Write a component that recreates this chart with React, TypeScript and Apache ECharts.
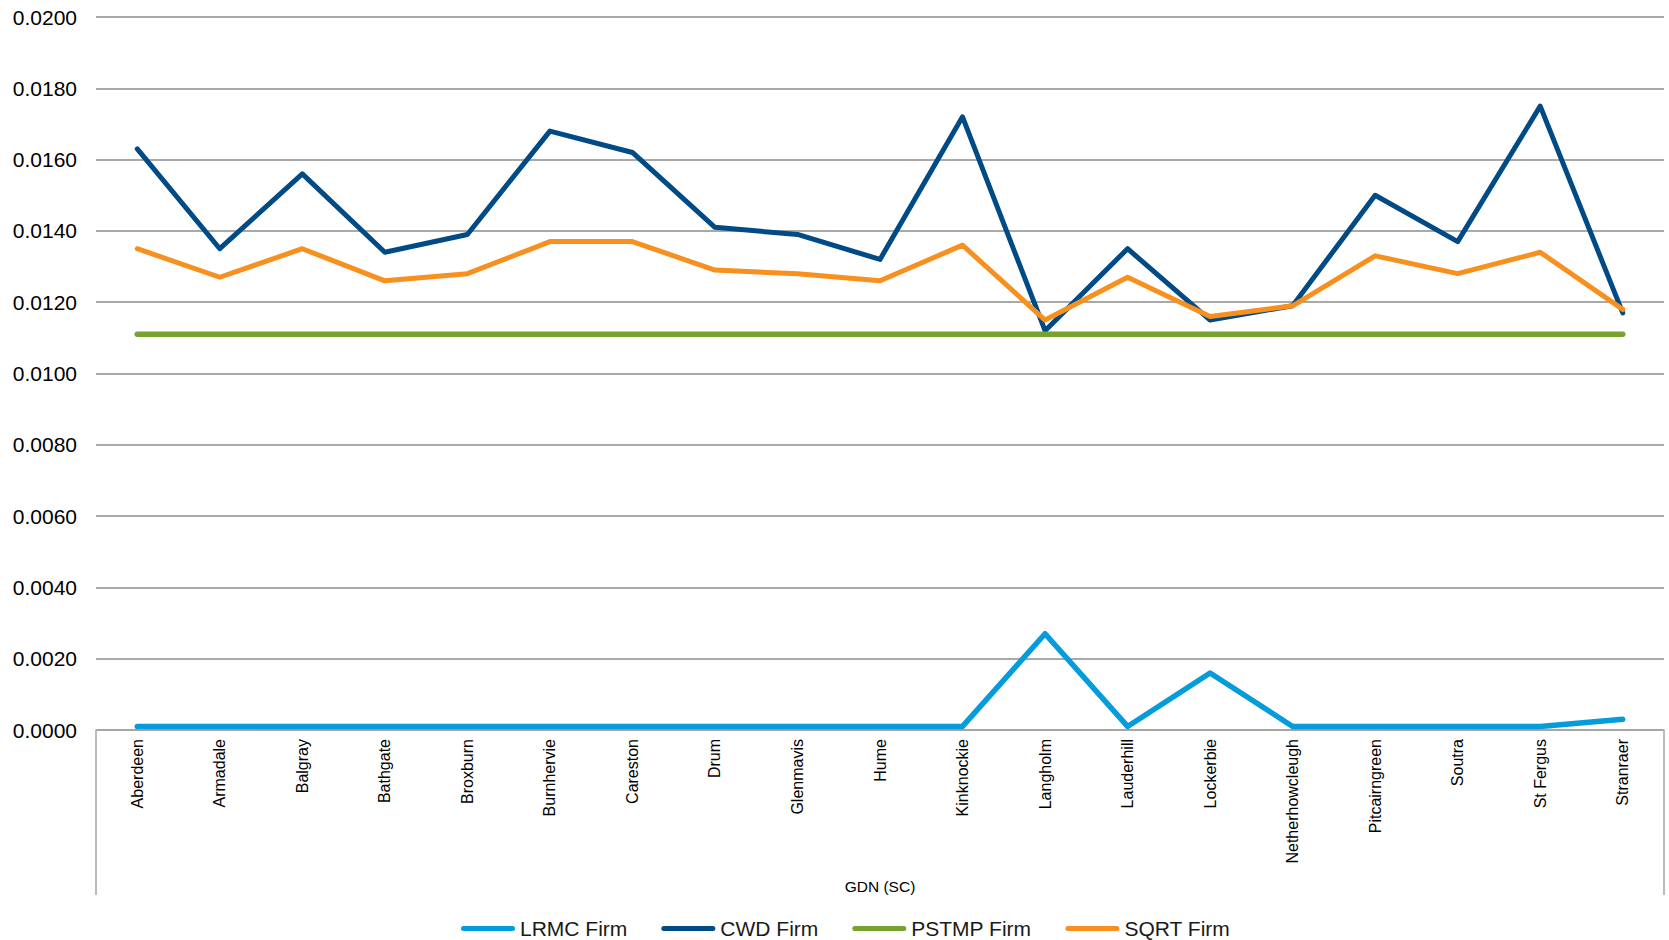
import { useEffect, useRef } from "react";
import * as echarts from "echarts";

const categories = [
  "Aberdeen",
  "Armadale",
  "Balgray",
  "Bathgate",
  "Broxburn",
  "Burnhervie",
  "Careston",
  "Drum",
  "Glenmavis",
  "Hume",
  "Kinknockie",
  "Langholm",
  "Lauderhill",
  "Lockerbie",
  "Netherhowcleugh",
  "Pitcairngreen",
  "Soutra",
  "St Fergus",
  "Stranraer",
];

const lrmcFirm = [
  0.0001, 0.0001, 0.0001, 0.0001, 0.0001, 0.0001, 0.0001, 0.0001, 0.0001, 0.0001,
  0.0001, 0.0027, 0.0001, 0.0016, 0.0001, 0.0001, 0.0001, 0.0001, 0.0003,
];

const cwdFirm = [
  0.0163, 0.0135, 0.0156, 0.0134, 0.0139, 0.0168, 0.0162, 0.0141, 0.0139, 0.0132,
  0.0172, 0.0112, 0.0135, 0.0115, 0.0119, 0.015, 0.0137, 0.0175, 0.0117,
];

const pstmpFirm = [
  0.0111, 0.0111, 0.0111, 0.0111, 0.0111, 0.0111, 0.0111, 0.0111, 0.0111, 0.0111,
  0.0111, 0.0111, 0.0111, 0.0111, 0.0111, 0.0111, 0.0111, 0.0111, 0.0111,
];

const sqrtFirm = [
  0.0135, 0.0127, 0.0135, 0.0126, 0.0128, 0.0137, 0.0137, 0.0129, 0.0128, 0.0126,
  0.0136, 0.0115, 0.0127, 0.0116, 0.0119, 0.0133, 0.0128, 0.0134, 0.0118,
];

const groupLabel = ["GDN (SC)"];

const FONT = "'Liberation Sans', Arial, sans-serif";

// pill-shaped legend key, like the rounded line ends in the original
const PILL = "path://M2.5,0 L51.5,0 A2.5,2.5 0 0 1 51.5,5 L2.5,5 A2.5,2.5 0 0 1 2.5,0 Z";

export default function App() {
  const ref = useRef<HTMLDivElement>(null);

  useEffect(() => {
    document.body.style.margin = "0";
    if (!ref.current) return;
    const chart = echarts.init(ref.current, undefined, { renderer: "svg" });

    const line = (name: string, data: number[], color: string, width: number) => ({
      name,
      type: "line",
      data,
      symbol: "none",
      showSymbol: false,
      xAxisIndex: 0,
      lineStyle: { color, width, cap: "round", join: "round" },
      itemStyle: { color },
    });

    chart.setOption({
      animation: false,
      backgroundColor: "#ffffff",
      textStyle: { fontFamily: FONT },
      grid: { left: 96, right: 5, top: 17, bottom: 210 },
      legend: {
        left: 456,
        top: 913,
        icon: PILL,
        itemWidth: 54,
        itemHeight: 5,
        itemGap: 34,
        textStyle: { fontSize: 21, color: "#1a1a1a", fontFamily: FONT },
        data: ["LRMC Firm", "CWD Firm", "PSTMP Firm", "SQRT Firm"],
      },
      xAxis: [
        {
          type: "category",
          data: categories,
          boundaryGap: true,
          axisLine: { lineStyle: { color: "#a6a6a6", width: 1.5 } },
          axisTick: { show: false },
          axisLabel: {
            rotate: 90,
            interval: 0,
            margin: 9,
            fontSize: 16,
            color: "#000000",
            fontFamily: FONT,
          },
        },
        {
          type: "category",
          data: groupLabel,
          position: "bottom",
          boundaryGap: true,
          axisLine: { show: false },
          axisTick: {
            show: true,
            length: 165,
            lineStyle: { color: "#a6a6a6", width: 1.5 },
          },
          axisLabel: {
            margin: 148,
            fontSize: 15.5,
            color: "#000000",
            fontFamily: FONT,
          },
        },
      ],
      yAxis: {
        type: "value",
        min: 0,
        max: 0.02,
        interval: 0.002,
        axisLine: { show: false },
        axisTick: { show: false },
        splitLine: { lineStyle: { color: "#8c8c8c", width: 1.5 } },
        axisLabel: {
          margin: 19,
          fontSize: 21,
          color: "#000000",
          fontFamily: FONT,
          formatter: (v: number) => v.toFixed(4),
        },
      },
      series: [
        line("LRMC Firm", lrmcFirm, "#059cdb", 5.5),
        line("CWD Firm", cwdFirm, "#004a86", 5),
        line("PSTMP Firm", pstmpFirm, "#77a22d", 5.5),
        line("SQRT Firm", sqrtFirm, "#f7901e", 5),
      ],
    });

    return () => {
      chart.dispose();
    };
  }, []);

  return <div ref={ref} style={{ width: 1669, height: 940 }} />;
}
